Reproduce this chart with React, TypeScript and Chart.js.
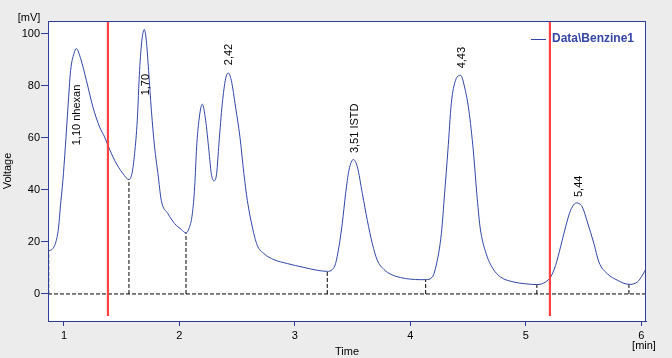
import React, { useEffect, useRef } from "react";
import { Chart, registerables } from "chart.js";

Chart.register(...registerables);

// Chromatogram trace: time [min] and signal [mV]
const times = [
  0.866, 0.905, 0.934, 0.954, 0.969, 0.991, 1.012, 1.035, 1.058, 1.087, 1.107, 1.145, 1.194, 1.251,
  1.309, 1.352, 1.381, 1.439, 1.511, 1.563, 1.589, 1.612, 1.635, 1.655, 1.675, 1.696, 1.713, 1.733,
  1.757, 1.785, 1.814, 1.843, 1.9, 1.958, 2.016, 2.057, 2.082, 2.112, 2.132, 2.149, 2.169, 2.198,
  2.227, 2.255, 2.276, 2.299, 2.322, 2.342, 2.371, 2.4, 2.423, 2.449, 2.486, 2.524, 2.558, 2.588,
  2.631, 2.674, 2.732, 2.818, 2.934, 3.078, 3.194, 3.28, 3.324, 3.352, 3.381, 3.41, 3.439, 3.468,
  3.506, 3.541, 3.584, 3.627, 3.67, 3.713, 3.771, 3.829, 3.915, 4.002, 4.088, 4.132, 4.19, 4.233,
  4.268, 4.296, 4.325, 4.354, 4.391, 4.435, 4.469, 4.506, 4.545, 4.575, 4.603, 4.656, 4.714, 4.781,
  4.896, 5.0, 5.095, 5.17, 5.214, 5.257, 5.3, 5.344, 5.387, 5.439, 5.488, 5.532, 5.589, 5.632, 5.705,
  5.792, 5.892, 5.965, 6.009, 6.046,
];
const voltages = [
  16.6, 17.5, 20.6, 25.8, 33.5, 43.7, 56.5, 71.9, 86.0, 92.5, 94.4, 90.5, 82.2, 71.9,
  64.2, 60.4, 57.2, 51.4, 46.3, 44.0, 46.3, 54.0, 66.8, 86.0, 97.6, 101.7, 97.6, 86.0,
  70.7, 56.5, 46.3, 36.0, 30.9, 27.1, 24.8, 23.5, 25.1, 30.9, 41.2, 56.5, 66.8, 73.0,
  66.8, 55.3, 46.3, 43.5, 46.3, 57.8, 73.2, 82.8, 85.0, 82.2, 71.9, 60.4, 46.3, 36.0,
  25.8, 18.7, 15.5, 13.2, 11.7, 10.2, 9.1, 8.7, 9.4, 11.7, 18.1, 27.1, 38.6, 47.6,
  51.7, 48.8, 38.6, 28.3, 19.4, 13.0, 9.4, 7.6, 6.3, 5.7, 5.5, 5.5, 6.5, 13.0,
  23.2, 38.6, 55.3, 73.2, 82.2, 84.1, 79.6, 70.7, 55.0, 38.6, 25.8, 15.5, 9.8, 6.5,
  4.6, 3.9, 3.6, 4.6, 6.5, 11.0, 18.1, 25.8, 32.2, 35.0, 33.5, 27.7, 19.4, 12.3, 7.8,
  5.3, 3.7, 4.6, 7.2, 10.2,
];

// Peak annotations
const peakLabels = ["1,10 nhexan", "1,70", "2,42", "3,51 ISTD", "4,43", "5,44"];
const peakLabelTimes = [1.114, 1.71, 2.426, 3.519, 4.443, 5.46];
const peakLabelVoltages = [57.2, 76.4, 88.0, 54.2, 86.8, 37.3];

// Integration baseline drop points (valleys)
const valleyTimes = [0.868, 1.563, 2.057, 3.28, 4.132, 5.095, 5.892];
const valleyVoltages = [16.6, 44.0, 23.5, 8.7, 5.5, 3.6, 3.7];

// Red marker lines
const markerTimes = [1.381, 5.208];
const markerTop = 105;
const markerBottom = -8.5;

const xTicks = [1, 2, 3, 4, 5, 6];
const yTicks = [0, 20, 40, 60, 80, 100];
const xMin = 0.862;
const xMax = 6.04;
const yMin = -10.4;
const yMax = 105;

const seriesName = "Data\\Benzine1";

const AXIS_BLUE = "#2b3d96";
const CURVE_BLUE = "#3047a8";
const FONT = "'Liberation Sans', Arial, sans-serif";

export default function App() {
  const ref = useRef<HTMLCanvasElement | null>(null);

  useEffect(() => {
    const canvas = ref.current;
    if (!canvas) return;

    const datasets: any[] = [];
    markerTimes.forEach((t) => {
      datasets.push({
        data: [
          { x: t, y: markerTop },
          { x: t, y: markerBottom },
        ],
        borderColor: "rgba(255,50,50,0.92)",
        borderWidth: 2.2,
        pointRadius: 0,
      });
    });
    datasets.push({
      label: seriesName,
      data: times.map((t, i) => ({ x: t, y: voltages[i] })),
      borderColor: CURVE_BLUE,
      borderWidth: 1,
      pointRadius: 0,
      cubicInterpolationMode: "monotone",
    });
    datasets.push({
      data: [
        { x: xMin, y: 0 },
        { x: xMax, y: 0 },
      ],
      borderColor: "#000",
      borderWidth: 1,
      borderDash: [4, 2],
      pointRadius: 0,
    });
    valleyTimes.forEach((t, i) => {
      datasets.push({
        data: [
          { x: t, y: 0 },
          { x: t, y: valleyVoltages[i] },
        ],
        borderColor: "#000",
        borderWidth: 1,
        borderDash: [4, 2],
        pointRadius: 0,
      });
    });

    const decor = {
      id: "decor",
      beforeDraw(chart: any) {
        const { ctx, chartArea: a, width, height } = chart;
        ctx.save();
        ctx.fillStyle = "#ececec";
        ctx.fillRect(0, 0, width, height);
        ctx.fillStyle = "#ffffff";
        ctx.fillRect(a.left, a.top, a.right - a.left, a.bottom - a.top);
        ctx.restore();
      },
      afterDraw(chart: any) {
        const { ctx, chartArea: a, scales } = chart;
        const xs = scales.x;
        const ys = scales.y;
        ctx.save();
        // frame
        ctx.strokeStyle = AXIS_BLUE;
        ctx.lineWidth = 1;
        ctx.strokeRect(Math.round(a.left) + 0.5, Math.round(a.top) + 0.5, Math.round(a.right - a.left) - 1, Math.round(a.bottom - a.top));

        // peak labels
        ctx.fillStyle = "#000";
        ctx.font = `11px ${FONT}`;
        ctx.textAlign = "left";
        ctx.textBaseline = "middle";
        peakLabels.forEach((txt, i) => {
          const px = xs.getPixelForValue(peakLabelTimes[i]);
          const py = ys.getPixelForValue(peakLabelVoltages[i]);
          ctx.save();
          ctx.translate(px, py);
          ctx.rotate(-Math.PI / 2);
          ctx.fillText(txt, 0, 0);
          ctx.restore();
        });

        // axis titles
        ctx.font = `11px ${FONT}`;
        ctx.textAlign = "center";
        ctx.textBaseline = "middle";
        ctx.fillText("[mV]", a.left - 19, a.top - 3);
        ctx.fillText("Time", (a.left + a.right) / 2, 352);
        ctx.fillText("[min]", a.right - 2, 346);
        ctx.save();
        ctx.translate(8, (a.top + a.bottom) / 2);
        ctx.rotate(-Math.PI / 2);
        ctx.fillText("Voltage", 0, 0);
        ctx.restore();

        // legend
        const ly = a.top + 18;
        ctx.strokeStyle = CURVE_BLUE;
        ctx.lineWidth = 1;
        ctx.beginPath();
        ctx.moveTo(a.right - 115, ly + 0.5);
        ctx.lineTo(a.right - 100, ly + 0.5);
        ctx.stroke();
        ctx.fillStyle = "#3446a6";
        ctx.font = `bold 12px ${FONT}`;
        ctx.textAlign = "left";
        ctx.fillText(seriesName, a.right - 94, ly);
        ctx.restore();
      },
    };

    const chart = new Chart(canvas, {
      type: "line",
      data: { datasets },
      options: {
        responsive: false,
        animation: false,
        parsing: true,
        layout: { padding: { left: 0, right: 26, top: 21, bottom: 0 } },
        plugins: {
          legend: { display: false },
          tooltip: { enabled: false },
        },
        scales: {
          x: {
            type: "linear",
            min: xMin,
            max: xMax,
            afterBuildTicks: (s: any) => {
              s.ticks = xTicks.map((v) => ({ value: v }));
            },
            afterFit: (s: any) => {
              s.height = 37;
            },
            grid: {
              drawOnChartArea: false,
              drawTicks: true,
              tickLength: 5,
              color: AXIS_BLUE,
            },
            border: { display: true, color: AXIS_BLUE },
            ticks: {
              color: "#000",
              font: { size: 11, family: FONT },
              padding: 3,
              maxRotation: 0,
              autoSkip: false,
            },
          },
          y: {
            type: "linear",
            min: yMin,
            max: yMax,
            afterBuildTicks: (s: any) => {
              s.ticks = yTicks.map((v) => ({ value: v }));
            },
            afterFit: (s: any) => {
              s.width = 48;
            },
            grid: {
              drawOnChartArea: false,
              drawTicks: true,
              tickLength: 7,
              color: AXIS_BLUE,
            },
            border: { display: true, color: AXIS_BLUE },
            ticks: {
              color: "#000",
              font: { size: 11, family: FONT },
              padding: 1,
              autoSkip: false,
            },
          },
        },
      },
      plugins: [decor],
    });

    return () => chart.destroy();
  }, []);

  return (
    <div style={{ position: "absolute", left: 0, top: 0, width: 672, height: 358 }}>
      <canvas ref={ref} width={672} height={358} style={{ display: "block" }} />
    </div>
  );
}
